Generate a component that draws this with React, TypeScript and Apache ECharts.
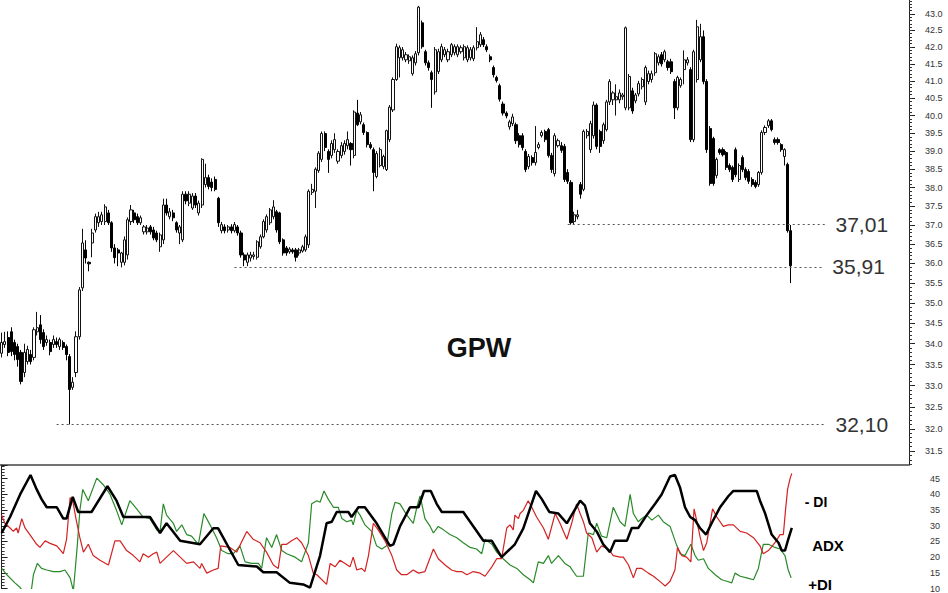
import React, { useEffect, useRef } from "react";
import * as echarts from "echarts";

// ---- price data (candles, left to right) ----
const OPEN = [
  33.77, 33.98, 34.15, 34.29, 34.03, 33.93, 33.79, 33.31, 33.57, 33.74,
  33.67, 34.29, 34.46, 34.27, 34.03, 34.03, 33.98, 34.05, 33.93, 34.03,
  33.93, 33.69, 32.96, 33.31, 34.17, 35.38, 36.35, 36.03, 36.53, 36.87,
  37.06, 37.09, 37.09, 37.32, 37.06, 36.40, 36.35, 36.03, 36.03, 36.22,
  37.09, 37.32, 37.22, 37.06, 36.82, 36.82, 36.95, 36.87, 36.79, 36.43,
  36.61, 37.53, 37.22, 37.32, 37.06, 36.79, 36.61, 37.82, 37.58, 37.45,
  37.77, 37.32, 37.53, 38.08, 38.27, 38.15, 38.22, 37.71, 36.85, 36.95,
  36.87, 36.95, 36.85, 36.95, 36.79, 36.22, 36.03, 36.14, 36.18, 36.16,
  36.43, 36.69, 36.87, 37.06, 37.22, 37.35, 37.32, 36.61, 36.40, 36.30,
  36.35, 36.35, 36.27, 36.32, 36.35, 36.48, 37.87, 37.90, 38.46, 38.77,
  39.49, 38.99, 38.88, 39.04, 38.72, 38.88, 38.99, 39.15, 39.21, 38.88,
  40.07, 39.82, 39.74, 39.52, 39.18, 39.04, 38.30, 38.60, 38.57, 38.49,
  39.32, 40.16, 41.04, 41.68, 41.68, 41.62, 41.59, 41.21, 41.53, 41.83,
  42.73, 41.86, 41.53, 41.24, 40.68, 41.27, 41.62, 41.77, 41.62, 41.77,
  41.83, 41.77, 41.86, 41.68, 41.62, 41.68, 41.65, 41.98, 42.07, 42.22,
  42.01, 41.71, 41.39, 41.10, 40.86, 40.33, 40.07, 39.68, 39.77, 39.74,
  39.43, 39.43, 38.99, 38.57, 38.82, 38.68, 39.10, 39.43, 39.55, 39.60,
  38.88, 38.38, 39.15, 39.15, 39.13, 38.41, 38.14, 37.09, 37.22, 38.08,
  37.95, 39.43, 39.04, 39.43, 40.30, 39.55, 39.29, 39.60, 40.39, 40.45,
  40.45, 40.45, 40.54, 40.22, 40.22, 40.71, 40.42, 40.62, 40.83, 40.39,
  40.98, 41.04, 41.24, 41.53, 41.77, 41.62, 41.56, 41.56, 40.98, 40.22,
  40.86, 41.33, 41.53, 41.33, 39.32, 41.04, 41.62, 42.31, 40.98, 39.63,
  39.35, 38.33, 39.04, 39.04, 38.96, 38.60, 38.55, 39.04, 38.22, 38.82,
  38.49, 38.44, 38.22, 38.14, 38.08, 38.41, 39.52, 39.71, 39.85, 39.32,
  39.32, 39.18, 38.85, 38.63, 36.85,
];
const CLOSE = [
  34.03, 34.05, 33.79, 33.81, 33.74, 33.62, 33.10, 33.79, 33.86, 33.57,
  34.34, 34.39, 34.10, 33.93, 34.10, 33.81, 34.10, 33.98, 34.10, 33.91,
  33.74, 32.91, 33.08, 34.17, 35.33, 36.53, 36.14, 35.99, 36.79, 37.22,
  37.22, 37.27, 37.48, 37.06, 36.40, 36.15, 36.27, 36.27, 36.61, 37.14,
  37.40, 37.14, 37.06, 37.19, 36.95, 36.92, 36.82, 36.66, 36.61, 36.74,
  37.53, 37.32, 37.35, 37.19, 36.87, 36.95, 37.82, 37.64, 37.82, 37.77,
  37.53, 37.58, 38.77, 38.27, 38.03, 38.00, 37.95, 37.06, 37.01, 36.85,
  36.95, 36.85, 37.01, 36.79, 36.22, 36.09, 36.22, 36.22, 36.22, 36.56,
  36.69, 37.09, 37.22, 37.40, 37.48, 36.87, 36.56, 36.27, 36.27, 36.37,
  36.30, 36.16, 36.35, 36.43, 36.69, 37.90, 37.95, 38.50, 38.94, 39.49,
  39.10, 38.77, 39.21, 39.32, 38.99, 39.15, 39.21, 39.32, 39.04, 40.10,
  39.74, 40.02, 39.52, 39.18, 39.10, 38.41, 38.93, 39.04, 38.85, 39.57,
  40.24, 41.04, 42.01, 41.98, 41.92, 41.77, 41.71, 41.68, 41.80, 43.21,
  42.01, 41.53, 41.39, 41.04, 41.92, 41.86, 42.01, 41.92, 41.86, 42.07,
  42.01, 42.01, 41.98, 42.01, 41.98, 41.92, 41.98, 42.16, 42.37, 42.07,
  41.92, 41.62, 41.18, 41.01, 40.47, 40.07, 39.99, 39.82, 39.96, 39.29,
  39.18, 39.10, 38.49, 38.85, 38.68, 38.96, 39.18, 39.52, 39.32, 38.88,
  38.49, 39.43, 39.29, 39.02, 38.22, 38.17, 37.06, 37.27, 37.27, 37.82,
  39.55, 39.55, 39.77, 40.30, 39.13, 39.13, 39.74, 40.39, 40.98, 40.65,
  40.54, 40.65, 40.59, 42.58, 41.13, 40.13, 40.59, 40.92, 41.04, 41.39,
  41.21, 41.21, 41.80, 41.71, 41.50, 41.86, 41.39, 41.27, 40.22, 41.10,
  41.04, 41.62, 41.62, 39.32, 41.86, 42.61, 42.31, 40.98, 39.04, 38.11,
  38.11, 38.77, 38.96, 38.90, 38.55, 38.49, 38.22, 38.35, 38.60, 38.49,
  38.27, 38.17, 38.08, 38.03, 38.41, 39.52, 39.66, 39.85, 39.60, 39.24,
  39.24, 39.04, 39.04, 36.85, 35.94,
];
const LOW = [
  33.67, 33.90, 33.70, 33.70, 33.60, 33.45, 33.03, 33.20, 33.50, 33.50,
  33.60, 34.20, 34.00, 33.85, 33.95, 33.72, 33.90, 33.90, 33.85, 33.85,
  33.60, 32.10, 32.90, 33.20, 34.10, 35.30, 36.00, 35.80, 36.16, 36.80,
  36.95, 37.00, 37.00, 37.00, 36.30, 36.00, 35.93, 35.90, 35.95, 36.10,
  37.00, 37.05, 37.00, 37.00, 36.75, 36.75, 36.75, 36.60, 36.55, 36.30,
  36.50, 37.25, 37.15, 37.10, 36.80, 36.50, 36.55, 37.55, 37.50, 37.40,
  37.45, 37.25, 37.45, 38.00, 37.95, 37.90, 37.90, 36.95, 36.78, 36.78,
  36.80, 36.78, 36.80, 36.72, 36.15, 35.93, 35.93, 36.05, 36.10, 36.10,
  36.38, 36.65, 36.80, 37.00, 37.15, 36.80, 36.50, 36.20, 36.20, 36.25,
  36.25, 36.05, 36.20, 36.28, 36.30, 36.40, 37.80, 37.45, 38.40, 38.70,
  39.00, 38.40, 38.80, 38.95, 38.65, 38.80, 38.90, 39.05, 38.60, 38.80,
  39.70, 39.75, 39.45, 39.10, 39.05, 37.90, 38.25, 38.55, 38.50, 38.45,
  39.25, 40.10, 41.00, 41.10, 41.60, 41.55, 41.50, 41.15, 41.45, 41.75,
  41.95, 41.45, 41.30, 40.22, 40.60, 41.20, 41.55, 41.70, 41.55, 41.70,
  41.75, 41.70, 41.80, 41.60, 41.55, 41.60, 41.58, 41.90, 42.00, 42.00,
  41.85, 41.55, 41.10, 40.95, 40.40, 40.00, 39.92, 39.60, 39.70, 39.20,
  39.10, 39.02, 38.42, 38.50, 38.60, 38.60, 39.05, 39.38, 39.25, 38.82,
  38.40, 38.30, 39.10, 38.95, 38.15, 38.10, 37.01, 37.02, 37.15, 37.70,
  37.90, 39.35, 38.95, 39.35, 39.05, 38.95, 39.20, 39.55, 40.30, 40.30,
  40.00, 40.35, 40.45, 40.15, 40.15, 40.05, 40.35, 40.55, 40.75, 40.30,
  40.90, 40.95, 41.15, 41.45, 41.42, 41.55, 41.30, 41.20, 39.90, 40.15,
  40.80, 40.90, 41.45, 39.25, 39.25, 40.95, 41.55, 40.90, 38.95, 38.05,
  38.05, 38.25, 38.90, 38.85, 38.48, 38.42, 38.15, 38.28, 38.15, 38.42,
  38.20, 38.10, 38.02, 37.98, 38.02, 38.35, 39.45, 39.65, 39.55, 39.18,
  39.18, 38.98, 38.60, 36.80, 35.50,
];
const HIGH = [
  34.27, 34.29, 34.30, 34.40, 34.10, 34.00, 33.85, 34.00, 33.95, 33.85,
  34.40, 34.78, 34.70, 34.35, 34.20, 34.10, 34.20, 34.15, 34.15, 34.08,
  33.98, 33.75, 33.20, 34.30, 35.40, 36.90, 36.60, 36.05, 36.90, 37.30,
  37.35, 37.35, 37.55, 37.40, 37.10, 36.50, 36.40, 36.30, 36.70, 37.20,
  37.53, 37.40, 37.30, 37.25, 37.00, 37.00, 37.00, 36.95, 36.85, 36.80,
  37.70, 37.70, 37.45, 37.40, 37.10, 37.00, 37.90, 37.90, 37.90, 37.85,
  37.85, 37.65, 38.80, 38.65, 38.35, 38.25, 38.30, 37.75, 37.08, 37.02,
  37.00, 37.02, 37.08, 37.00, 36.85, 36.28, 36.28, 36.30, 36.30, 36.60,
  36.75, 37.15, 37.28, 37.45, 37.66, 37.40, 37.35, 36.65, 36.45, 36.42,
  36.40, 36.40, 36.40, 36.48, 36.75, 37.95, 38.10, 38.55, 39.00, 39.55,
  39.55, 39.05, 39.30, 39.50, 39.05, 39.25, 39.30, 39.55, 39.25, 40.15,
  40.45, 40.10, 39.80, 39.55, 39.25, 39.10, 39.00, 39.10, 38.90, 39.60,
  40.30, 41.10, 42.10, 42.05, 42.00, 41.85, 41.78, 41.75, 41.88, 43.25,
  42.80, 41.92, 41.60, 41.30, 42.00, 41.95, 42.10, 42.00, 41.95, 42.12,
  42.08, 42.08, 42.05, 42.08, 42.05, 42.00, 42.05, 42.60, 42.45, 42.30,
  42.08, 41.78, 41.45, 41.15, 40.92, 40.40, 40.12, 39.88, 40.05, 39.80,
  39.50, 39.50, 39.05, 38.92, 38.88, 39.70, 39.25, 39.58, 39.60, 39.65,
  38.95, 39.50, 39.35, 39.25, 39.20, 38.50, 38.20, 37.35, 37.40, 38.15,
  39.60, 39.62, 39.85, 40.40, 40.35, 39.60, 39.80, 40.45, 41.05, 40.70,
  40.90, 40.75, 40.65, 42.62, 41.20, 40.80, 40.65, 41.00, 41.10, 41.45,
  41.30, 41.30, 41.85, 41.78, 41.85, 41.92, 41.62, 41.65, 41.05, 41.15,
  41.10, 41.90, 41.70, 41.40, 41.92, 42.82, 42.70, 42.50, 41.05, 39.70,
  39.40, 38.82, 39.08, 39.10, 39.00, 38.66, 38.60, 39.10, 38.66, 38.88,
  38.55, 38.50, 38.28, 38.20, 38.45, 39.58, 39.72, 39.90, 39.90, 39.38,
  39.38, 39.22, 39.08, 38.68, 37.00,
];

// support levels marked on the chart
const LEVELS = [37.01, 35.91, 32.1];
const LEVEL_FROM = [175, 72, 17];
const LEVEL_TO = [255, 254, 255];

// price axis tick labels
const PRICE_TICKS = [
  31.5, 32.0, 32.5, 33.0, 33.5, 34.0, 34.5, 35.0, 35.5, 36.0, 36.5, 37.0,
  37.5, 38.0, 38.5, 39.0, 39.5, 40.0, 40.5, 41.0, 41.5, 42.0, 42.5, 43.0,
];

// ---- ADX / DI indicator (bar position, value) ----
const ADX = [
  [0, 27.7], [2.6, 32.8], [5.7, 40], [8.9, 46.2], [10.8, 41.6], [12.3, 38.5], [13.9, 35.9], [17, 35.9],
  [19, 32.3], [20, 32.3], [21.9, 39.2], [23.6, 34.4], [27.7, 34.4], [32.6, 42.6], [35.4, 38], [37.5, 32.8],
  [45.7, 32.8], [48.8, 27.7], [50.8, 30.8], [55, 25.2], [61.1, 24.1], [65.2, 29.2], [66.7, 29.2], [72.9, 17.5],
  [78.6, 17], [80.6, 15.2], [84.7, 15.2], [88.8, 11.8], [92.9, 11.3], [95, 10.3], [98.1, 20.5], [100.1, 30.8],
  [101.7, 31.3], [103.2, 34.4], [106.8, 34.4], [107.8, 32.8], [109.9, 35.9], [111.9, 35.9], [115.5, 30.8],
  [119.6, 23.6], [120.7, 24.1], [122.7, 29.8], [125.8, 35.9], [128.4, 35.9], [130.1, 41.1], [132.2, 41.1],
  [134, 37], [135.6, 34.4], [142.2, 34.4], [148.4, 25.2], [151, 25.2], [154, 20], [155.1, 21.1], [158.1, 24.1],
  [160.7, 29.2], [164.6, 41.1], [166.4, 38.5], [168.7, 34.4], [171.5, 33.9], [174.1, 30.8], [178.2, 38],
  [179.7, 36.4], [181.2, 30.8], [183.3, 28.2], [185.3, 24.1], [187.4, 21.6], [188.9, 25.2], [192.6, 25.2],
  [194.1, 29.3], [196.1, 29.3], [198.7, 33.4], [201.3, 37], [203.3, 40], [205.9, 45.7], [207.4, 46.2],
  [209, 42.1], [210.5, 35.9], [212.1, 32.8], [213.6, 31.8], [215.1, 29.3], [217, 27.2], [218.7, 30.8],
  [221.3, 35.9], [223.9, 39.5], [225.4, 41.1], [232.6, 41.1], [233.6, 38], [235.2, 33.9], [237.2, 27.2],
  [239.3, 24.6], [240.3, 22.1], [241.3, 22.1], [242.3, 25.7], [243.4, 29.3],
];
const MINUS_DI = [
  [0, 33.4], [1, 30.8], [2.6, 29.3], [3.6, 28.2], [4.6, 29.3], [5.1, 27.7], [6.2, 32.3], [7.2, 29.3], [8.7, 27.2],
  [10.8, 24.1], [11.8, 23.1], [13.4, 25.2], [14.9, 24.4], [17, 23.6], [19, 21.1], [20, 25.7], [21.1, 39], [21.9, 38],
  [22.9, 32.3], [24.1, 26.2], [25.2, 21.6], [26.7, 24.1], [28.2, 20.5], [30.3, 19], [32.9, 17.5], [34.9, 25.2],
  [36.5, 25.2], [38.5, 22.1], [40.6, 20.5], [42.6, 18.5], [43.6, 21.1], [45.2, 20], [46.7, 21.1], [47.8, 21.6],
  [48.8, 18], [50.8, 20], [52.9, 22.1], [55, 20], [57, 18], [59.1, 18.5], [61.1, 16.4], [61.6, 18], [63.2, 14.9],
  [65.2, 15.9], [66.7, 16.4], [67.5, 23.6], [70.3, 23.1], [72.4, 21.6], [75.5, 28.2], [77.5, 25.7], [79.6, 24.6],
  [81.6, 21.6], [83.7, 17.5], [85.2, 16.4], [86.3, 24.1], [87.8, 24.1], [89.3, 25.2], [90.9, 26.2], [92.4, 24.6],
  [94.5, 20.5], [96, 14.9], [97.1, 14.4], [100.1, 11.3], [101.2, 18], [102.7, 16.9], [104.2, 19], [105.8, 18],
  [107.3, 16.9], [108.3, 20], [109.4, 15.9], [110.9, 16.4], [111.9, 15.4], [113, 20.5], [114.5, 30.8], [116, 28.7],
  [118.1, 25.2], [120.2, 20.5], [121.7, 15.9], [123.2, 14.4], [124.8, 14.4], [126.8, 15.9], [128.4, 14.9],
  [130.4, 15.4], [133, 22.6], [134.5, 19.5], [136.6, 17.5], [138.6, 15.9], [140.2, 15.4], [141.7, 15.4],
  [143.3, 14.4], [145.3, 15.4], [147.4, 14.9], [148.9, 13.9], [151, 16.9], [152.5, 19.5], [154, 19.5],
  [155.6, 29.3], [156.6, 30.3], [157.6, 28.7], [158.1, 33.4], [159.2, 32.3], [159.7, 33.9], [160.7, 34.9],
  [162.2, 38], [163.3, 35.9], [164.8, 32.8], [166.9, 29.3], [168.4, 25.7], [170.5, 33.9], [172, 30.8],
  [174.1, 25.7], [175.6, 30.8], [177.1, 37], [178.2, 33.9], [179.2, 31.3], [180.2, 27.7], [181.8, 26.2],
  [183.3, 21.6], [184.8, 23.6], [186.9, 22.6], [188.4, 20.5], [190.5, 20], [191.5, 20], [193.1, 17.5],
  [194.6, 13.4], [195.6, 16.4], [197.2, 16.4], [199.2, 14.9], [200.8, 13.9], [203.3, 11.8], [204.4, 10.8],
  [205.9, 12.3], [207.4, 15.9], [208.2, 23.1], [209.5, 20.5], [211, 20], [212.3, 18.5], [213.3, 35.4],
  [214.3, 30.8], [215.1, 26.7], [216.2, 22.1], [217.2, 24.6], [219, 35.4], [220.3, 32.8], [222.3, 29.8],
  [223.9, 30.3], [225.4, 30.3], [227.5, 28.2], [229.5, 27.7], [231.6, 26.2], [233.6, 23.6], [234.6, 21.1],
  [236.2, 22.1], [238.2, 24.6], [239.8, 27.2], [240.8, 27.2], [241.5, 35.4], [242.1, 41.6], [242.9, 45.2],
  [243.4, 46.7],
];
const PLUS_DI = [
  [0, 16.4], [1.6, 14.4], [4.1, 11.8], [5.7, 10.3], [7.2, 8.2], [9, 8.2], [9.8, 14.4], [11, 18], [12.3, 16.4],
  [13.9, 15.9], [15.9, 15.4], [18, 15.4], [19.5, 15.9], [21.1, 13.4], [22.1, 9.3], [23.3, 23.6], [24.1, 34.9],
  [25, 41.6], [26.7, 38], [29.3, 45.2], [31.3, 43.1], [33.4, 40], [35.4, 34.9], [37, 30.3], [39.5, 38],
  [41.6, 35.4], [43.6, 32.8], [45.7, 32.3], [47.8, 28.7], [48.8, 28.2], [49.8, 37], [50.8, 33.4], [52.9, 30.8],
  [53.9, 28.2], [55.5, 30.3], [57, 27.2], [58.5, 26.7], [60.6, 24.1], [62.3, 33.9], [64.2, 30.3], [66.2, 26.2],
  [67.8, 22.1], [69.8, 21.1], [71.4, 21.1], [73.4, 23.6], [75, 18.5], [77, 18], [79.1, 18], [80.1, 16.4],
  [81.6, 26.2], [83.2, 23.1], [84.7, 27.2], [86.3, 22.1], [87.8, 21.1], [90.4, 20], [92.4, 18.5], [94.5, 24.6],
  [95.5, 37], [97.1, 38], [98.1, 37.5], [99.3, 41.1], [100.6, 38.5], [102.2, 35.9], [103.7, 35.9], [104.8, 32.3],
  [106.3, 31.3], [107.8, 31.8], [108.3, 30.3], [109.4, 34.9], [110.4, 33.4], [111.9, 30.3], [114, 28.2],
  [115.5, 23.6], [117.1, 22.6], [118.6, 23.6], [120.2, 33.9], [121.2, 37.5], [122.7, 37], [124.8, 33.4],
  [126.8, 30.8], [127.9, 35.9], [128.9, 39.5], [130.4, 32.3], [132, 29.8], [133, 27.7], [134.5, 29.8],
  [136.1, 28.7], [138.1, 27.2], [140.2, 26.2], [142.2, 24.6], [144.3, 23.1], [146.3, 22.6], [147.9, 21.1],
  [148.9, 25.7], [151, 24.1], [152.5, 21.6], [154.5, 19.5], [156.6, 17.5], [158.7, 16.4], [160.7, 14.4],
  [162.8, 12.8], [163.8, 11.8], [165.3, 18.5], [166.9, 18], [168.4, 20.5], [169.4, 18], [171.5, 20.5],
  [173.5, 18], [175.1, 16.9], [177.1, 13.9], [179.2, 13.9], [180.7, 27.7], [182.3, 27.2], [183.3, 30.8],
  [184.8, 26.7], [186.4, 26.2], [188.4, 35.9], [190.5, 31.3], [192, 29.8], [193.6, 40], [194.6, 33.9],
  [196.1, 31.3], [197.2, 32.3], [198.7, 33.4], [200.3, 31.8], [202.3, 33.4], [203.8, 31.3], [205.9, 29.8],
  [208, 23.6], [209, 21.1], [210.5, 20.5], [212.3, 24.1], [213.6, 20.5], [214.6, 19], [216.2, 19.5],
  [217.7, 16.4], [219.8, 14.4], [221.8, 12.8], [223.4, 12.3], [224.9, 11.8], [225.9, 14.9], [227.5, 13.9],
  [229.5, 13.4], [231.6, 12.8], [233.1, 16.4], [234.6, 24.1], [236.2, 24.1], [238.2, 23.1], [239.8, 22.6],
  [241.3, 20.5], [242.3, 15.9], [243.2, 13.4],
];

const FONT = "'Liberation Sans', Arial, sans-serif";
const N_SLOTS = 281; // bar slots across the price panel (incl. empty space on the right)
const LN43 = Math.log(43);
const PX_PER_LN = 1404;
const LN_MAX = LN43 + 14 / PX_PER_LN;
const LN_MIN = LN43 - 451 / PX_PER_LN;
const DI_MAX = 10 + 128 / 3.25;

const fmtLevel = (v: number) => v.toFixed(2).replace(".", ",");

export default function App() {
  const ref = useRef<HTMLDivElement>(null);
  useEffect(() => {
    document.body.style.margin = "0";
    const chart = echarts.init(ref.current!, null, { renderer: "svg" });
    const slots = Array.from({ length: N_SLOTS }, (_, i) => String(i));
    const candles = OPEN.map((o, i) => [
      Math.log(o),
      Math.log(CLOSE[i]),
      Math.log(LOW[i]),
      Math.log(HIGH[i]),
    ]);
    const majorTicks = PRICE_TICKS.map((v) => Math.log(v));
    const minorTicks: number[] = [];
    for (let k = 312; k <= 434; k++) minorTicks.push(Math.log(k / 10));

    const option: any = {
      animation: false,
      textStyle: { fontFamily: FONT },
      grid: [
        { left: 0, right: 39, top: 0, height: 465 },
        { left: 0, right: 39, top: 465, height: 128 },
      ],
      xAxis: [
        {
          type: "category",
          gridIndex: 0,
          data: slots,
          boundaryGap: true,
          axisLine: { show: true, lineStyle: { color: "#444", width: 1.5 } },
          axisTick: { show: false },
          axisLabel: { show: false },
          splitLine: { show: false },
        },
        {
          type: "value",
          gridIndex: 1,
          min: -0.5,
          max: 279.5,
          show: false,
        },
      ],
      yAxis: [
        {
          type: "value",
          gridIndex: 0,
          position: "right",
          min: LN_MIN,
          max: LN_MAX,
          axisLine: { show: true, lineStyle: { color: "#222", width: 1 } },
          axisTick: {
            show: true,
            customValues: majorTicks,
            length: 6,
            lineStyle: { color: "#222" },
          },
          axisLabel: {
            show: true,
            customValues: majorTicks,
            formatter: (v: number) => Math.exp(v).toFixed(1),
            margin: 16,
            fontSize: 9,
            color: "#333",
            fontFamily: FONT,
          },
          splitLine: { show: false },
        },
        {
          type: "value",
          gridIndex: 0,
          position: "right",
          min: LN_MIN,
          max: LN_MAX,
          axisLine: { show: false },
          axisTick: {
            show: true,
            customValues: minorTicks,
            length: 3,
            lineStyle: { color: "#333" },
          },
          axisLabel: { show: false },
          splitLine: { show: false },
        },
        {
          type: "value",
          gridIndex: 1,
          position: "right",
          min: 10,
          max: DI_MAX,
          interval: 5,
          axisLine: { show: true, lineStyle: { color: "#222", width: 1 } },
          axisTick: { show: true, length: 6, lineStyle: { color: "#222" } },
          minorTick: { show: true, splitNumber: 5, length: 3, lineStyle: { color: "#333" } },
          axisLabel: {
            formatter: (v: number) => (v > 46 || Math.abs(v - Math.round(v)) > 0.01 ? "" : String(v)),
            margin: 21,
            fontSize: 9,
            color: "#333",
            fontFamily: FONT,
          },
          splitLine: { show: false },
        },
      ],
      series: [
        {
          type: "candlestick",
          xAxisIndex: 0,
          yAxisIndex: 0,
          data: candles,
          barWidth: 2.6,
          itemStyle: {
            color: "#ffffff",
            color0: "#000000",
            borderColor: "#111111",
            borderColor0: "#000000",
            borderWidth: 1,
          },
          markLine: {
            silent: true,
            symbol: ["none", "none"],
            lineStyle: { type: [2, 3], color: "#555", width: 1 },
            label: {
              show: true,
              position: "end",
              formatter: "{b}",
              fontSize: 21,
              color: "#333",
              fontFamily: FONT,
              distance: 9,
            },
            data: LEVELS.map((lv, k) => [
              { name: fmtLevel(lv), coord: [LEVEL_FROM[k], Math.log(lv)] },
              { name: fmtLevel(lv), coord: [LEVEL_TO[k], Math.log(lv)] },
            ]),
          },
        },
        {
          type: "line",
          name: "+DI",
          xAxisIndex: 1,
          yAxisIndex: 2,
          data: PLUS_DI,
          showSymbol: false,
          lineStyle: { color: "#2a8a2a", width: 1.2 },
        },
        {
          type: "line",
          name: "-DI",
          xAxisIndex: 1,
          yAxisIndex: 2,
          data: MINUS_DI,
          showSymbol: false,
          lineStyle: { color: "#d42222", width: 1.2 },
        },
        {
          type: "line",
          name: "ADX",
          xAxisIndex: 1,
          yAxisIndex: 2,
          data: ADX,
          showSymbol: false,
          lineStyle: { color: "#000000", width: 2.5 },
        },
      ],
      graphic: [
        {
          type: "text",
          x: 479,
          y: 348,
          style: {
            text: "GPW",
            font: `bold 27px ${FONT}`,
            fill: "#111",
            align: "center",
            verticalAlign: "middle",
          },
        },
        {
          type: "text",
          x: 816,
          y: 502,
          style: { text: "- DI", font: `bold 14px ${FONT}`, fill: "#000", align: "center", verticalAlign: "middle" },
        },
        {
          type: "text",
          x: 828,
          y: 545,
          style: { text: "ADX", font: `bold 15px ${FONT}`, fill: "#000", align: "center", verticalAlign: "middle" },
        },
        {
          type: "text",
          x: 820,
          y: 584,
          style: { text: "+DI", font: `bold 15px ${FONT}`, fill: "#000", align: "center", verticalAlign: "middle" },
        },
      ],
    };
    chart.setOption(option);
    return () => chart.dispose();
  }, []);
  return <div ref={ref} style={{ width: 948, height: 593 }} />;
}
